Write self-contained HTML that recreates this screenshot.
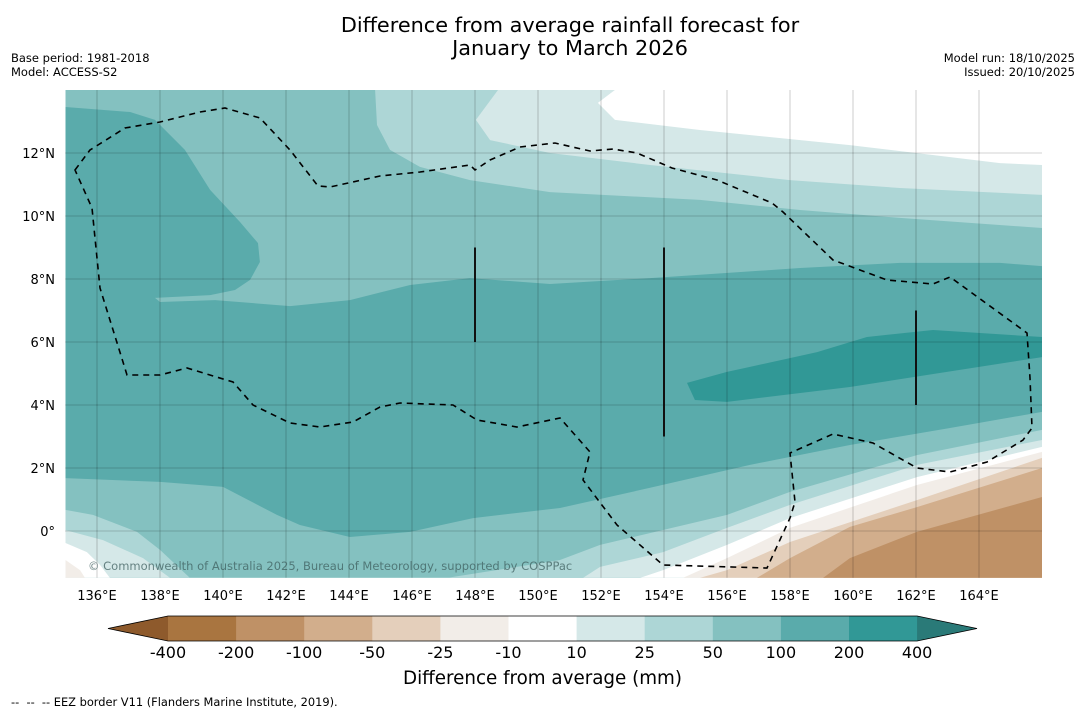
<!DOCTYPE html>
<html><head><meta charset="utf-8">
<style>
body{margin:0;background:#fff;font-family:"DejaVu Sans","Liberation Sans",sans-serif;}
#wrap{position:relative;width:1085px;height:713px;overflow:hidden;background:#fff;}
.t{position:absolute;white-space:nowrap;color:#000;}
</style></head>
<body>
<div id="wrap">
<div class="t" style="left:0;width:1140px;text-align:center;top:14px;font-size:20.8px;line-height:23px;">Difference from average rainfall forecast for<br>January to March 2026</div>
<div class="t" style="left:11px;top:51px;font-size:11.5px;line-height:14px;">Base period: 1981-2018<br>Model: ACCESS-S2</div>
<div class="t" style="right:10px;top:51px;font-size:11.5px;line-height:14px;text-align:right;">Model run: 18/10/2025<br>Issued: 20/10/2025</div>
<svg id="map" width="1085" height="713" style="position:absolute;left:0;top:0"></svg>
<div class="t" style="left:0;width:1085px;text-align:center;top:668px;font-size:18.3px;">Difference from average (mm)</div>
<div class="t" style="left:11px;top:695px;font-size:11.4px;">--&nbsp; --&nbsp; -- EEZ border V11 (Flanders Marine Institute, 2019).</div>
</div>
<script>
const NS='http://www.w3.org/2000/svg';
const svg=document.getElementById('map');
const FF='DejaVu Sans, Liberation Sans, sans-serif';
// axes
const lonTicks=[136,138,140,142,144,146,148,150,152,154,156,158,160,162,164];
const latTicks=[0,2,4,6,8,10,12];
const lonMin=135, lonMax=166, latMin=-1.49, latMax=14;
function X(lon){return 97+(lon-136)*31.5;}
function Y(lat){return 531-lat*31.5;}
const levelLabels=['-400','-200','-100','-50','-25','-10','10','25','50','100','200','400'];
const levelColors=['#a97540','#bf9166','#d2ae8c','#e4cfbb','#f2ede8','#ffffff','#d5e8e8','#add6d6','#84c1c0','#5aabab','#319896'];
// contour regions [lon,lat]
const band25North=[[144.83,14],[166,14],[166,9.62],[161.49,9.94],[158.32,10.19],[155.14,10.51],[150.38,10.76],[147.84,11.14],[146.25,11.56],[145.30,12.10],[144.89,12.89]];
const band10North=[[148.73,14],[166,14],[166,10.67],[161.49,10.89],[158.0,11.14],[153.56,11.62],[150.38,12.0],[148.48,12.41],[148.03,13.05]];
const bandWhiteNorth=[[152.44,14],[151.90,13.59],[152.44,13.05],[155.14,12.73],[159.90,12.25],[164.67,11.68],[166,11.62],[166,14]];
const band100=[[135,13.46],[137.05,13.30],[137.84,13.05],[138.79,12.10],[139.59,10.83],[140.54,9.81],[141.11,9.14],[141.17,8.54],[140.86,7.97],[140.38,7.65],[139.59,7.49],[137.84,7.40],[138.0,7.27],[139.75,7.33],[142.13,7.14],[144.03,7.33],[145.94,7.81],[147.84,8.03],[150.38,7.84],[153.56,8.03],[158.32,8.35],[161.49,8.51],[164.67,8.51],[166,8.41],[166,3.78],[163.08,3.27],[159.90,2.73],[156.73,2.10],[153.56,1.37],[150.70,0.73],[147.94,0.41],[145.94,-0.03],[144.03,-0.19],[142.44,0.19],[141.71,0.51],[140.0,1.40],[138.0,1.56],[135,1.68]];
const band200=[[154.73,4.70],[154.98,4.16],[156.0,4.10],[159.90,4.57],[166,5.52],[166,6.16],[162.54,6.38],[160.44,6.16],[158.86,5.68],[156.73,5.21],[156.0,5.05]];
const sw25=[[135,0.67],[135.87,0.51],[137.27,-0.03],[138.0,-0.60],[138.95,-1.49],[135,-1.49]];
const sw10=[[135,0.03],[136.19,-0.29],[137.46,-0.86],[138.32,-1.49],[135,-1.49]];
const swWhite=[[135,-0.38],[135.68,-0.67],[136.1,-1.08],[136.41,-1.49],[135,-1.49]];
const swM25=[[135,-0.92],[135.46,-1.24],[135.62,-1.49],[135,-1.49]];
const se25=[[166,3.21],[162.03,2.41],[158.0,1.24],[156.0,0.51],[151.97,-0.44],[150.70,-0.92],[147.11,-1.49],[166,-1.49]];
const se10=[[166,2.89],[162.03,2.10],[158.0,0.83],[156.0,0.10],[153.97,-0.67],[151.97,-1.14],[151.43,-1.49],[166,-1.49]];
const seWhite=[[166,2.67],[162.03,1.71],[158.0,0.41],[156.0,-0.44],[153.97,-1.24],[153.24,-1.49],[166,-1.49]];
const seM25=[[166,2.51],[162.03,1.46],[158.0,0.10],[156.0,-0.86],[154.60,-1.49],[166,-1.49]];
const seM50=[[166,2.32],[162.03,0.98],[158.0,-0.35],[156.0,-1.24],[155.14,-1.49],[166,-1.49]];
const seM100=[[166,2.0],[162.03,0.76],[159.90,0.13],[158.0,-0.86],[156.95,-1.49],[166,-1.49]];
const seM200=[[166,1.08],[162.03,-0.03],[159.90,-0.86],[159.05,-1.49],[166,-1.49]];
const regions=[
 ['band-25-north',band25North,'#add6d6'],['band-10-north',band10North,'#d5e8e8'],['band-white-north',bandWhiteNorth,'#ffffff'],
 ['band-100',band100,'#5aabab'],['band-200',band200,'#319896'],
 ['sw-25',sw25,'#add6d6'],['sw-10',sw10,'#d5e8e8'],['sw-white',swWhite,'#ffffff'],['sw-minus25',swM25,'#f2ede8'],
 ['se-25',se25,'#add6d6'],['se-10',se10,'#d5e8e8'],['se-white',seWhite,'#ffffff'],['se-minus25',seM25,'#f2ede8'],
 ['se-minus50',seM50,'#e4cfbb'],['se-minus100',seM100,'#d2ae8c'],['se-minus200',seM200,'#bf9166']];
// marks
const clip=document.createElementNS(NS,'clipPath');clip.setAttribute('id','mc');
const cr=document.createElementNS(NS,'rect');cr.setAttribute('x',X(lonMin));cr.setAttribute('y',Y(latMax));cr.setAttribute('width',X(lonMax)-X(lonMin));cr.setAttribute('height',Y(latMin)-Y(latMax));
clip.appendChild(cr);svg.appendChild(clip);
const g=document.createElementNS(NS,'g');g.setAttribute('clip-path','url(#mc)');svg.appendChild(g);
const bg=document.createElementNS(NS,'rect');


bg.setAttribute('x',X(lonMin));bg.setAttribute('y',Y(latMax));bg.setAttribute('width',X(lonMax)-X(lonMin));bg.setAttribute('height',Y(latMin)-Y(latMax));bg.setAttribute('fill','#84c1c0');g.appendChild(bg);
regions.forEach(r=>{
 const p=document.createElementNS(NS,'polygon');
 
 
 p.setAttribute('points',r[1].map(q=>X(q[0]).toFixed(1)+','+Y(q[1]).toFixed(1)).join(' '));
 p.setAttribute('fill',r[2]);g.appendChild(p);
});
// grid
lonTicks.forEach(l=>{
 const ln=document.createElementNS(NS,'line');
 
 
 ln.setAttribute('x1',X(l));ln.setAttribute('x2',X(l));ln.setAttribute('y1',Y(latMax));ln.setAttribute('y2',Y(latMin));
 ln.setAttribute('stroke','#000');ln.setAttribute('stroke-opacity','0.2');ln.setAttribute('stroke-width','1');g.appendChild(ln);
 const t=document.createElementNS(NS,'text');
 
 
 t.setAttribute('x',X(l));t.setAttribute('y',600);t.setAttribute('text-anchor','middle');t.setAttribute('font-size','13');t.setAttribute('font-family',FF);
 t.textContent=l+'°E';svg.appendChild(t);
});
latTicks.forEach(l=>{
 const ln=document.createElementNS(NS,'line');
 
 
 ln.setAttribute('x1',X(lonMin));ln.setAttribute('x2',X(lonMax));ln.setAttribute('y1',Y(l));ln.setAttribute('y2',Y(l));
 ln.setAttribute('stroke','#000');ln.setAttribute('stroke-opacity','0.35');ln.setAttribute('stroke-width','1');ln.setAttribute('stroke-dasharray','1 1');g.appendChild(ln);
 const t=document.createElementNS(NS,'text');
 
 
 t.setAttribute('x',55);t.setAttribute('y',Y(l)+5);t.setAttribute('text-anchor','end');t.setAttribute('font-size','13');t.setAttribute('font-family',FF);
 t.textContent=l===0?'0°':l+'°N';svg.appendChild(t);
});
// vertical black bars
const barLon=[148,154,162];const barTop=[9,9,7];const barBot=[6,3,4];
barLon.forEach((l,i)=>{
 const ln=document.createElementNS(NS,'line');
 
 
 ln.setAttribute('x1',X(l));ln.setAttribute('x2',X(l));ln.setAttribute('y1',Y(barTop[i]));ln.setAttribute('y2',Y(barBot[i]));
 ln.setAttribute('stroke','#111');ln.setAttribute('stroke-width','2');g.appendChild(ln);
});
// EEZ dashed line
const eez=document.createElementNS(NS,'path');


eez.setAttribute('d','M75,170 L90,150 L125,128 L160,122 L200,112 L225,108 L260,118 L290,150 L318,186 L330,187 L380,176 L420,172 L470,165 L475,170 L490,160 L520,147 L555,143 L590,151 L613,149 L637,153 L672,168 L717,180 L772,203 L783,212 L833,260 L887,280 L933,284 L950,277 L1027,333 L1030,378 L1032,428 L1023,440 L987,462 L950,472 L917,468 L873,443 L833,434 L790,453 L795,502 L790,518 L767,568 L663,565 L617,525 L583,480 L590,452 L560,418 L517,427 L477,420 L453,405 L400,403 L380,407 L353,422 L320,427 L290,423 L253,405 L233,382 L187,368 L160,375 L127,375 L123,362 L100,288 L92,208 Z');
eez.setAttribute('fill','none');eez.setAttribute('stroke','#000');eez.setAttribute('stroke-width','1.6');eez.setAttribute('stroke-dasharray','6 5');g.appendChild(eez);
// copyright
const cp=document.createElementNS(NS,'text');


cp.setAttribute('x',88);cp.setAttribute('y',570);cp.setAttribute('font-size','11.5');cp.setAttribute('fill','#3f5f5f');cp.setAttribute('fill-opacity','0.75');cp.setAttribute('font-family',FF);
cp.textContent='© Commonwealth of Australia 2025, Bureau of Meteorology, supported by COSPPac';svg.appendChild(cp);
// colorbar
const cbX0=168,cbW=68.1,cbY=616,cbH=25;
levelColors.forEach((c,i)=>{
 const r=document.createElementNS(NS,'rect');
 
 
 r.setAttribute('x',cbX0+i*cbW);r.setAttribute('y',cbY);r.setAttribute('width',cbW+0.5);r.setAttribute('height',cbH);r.setAttribute('fill',c);svg.appendChild(r);
});
const la=document.createElementNS(NS,'polygon');


la.setAttribute('points',`108,${cbY+cbH/2} ${cbX0},${cbY} ${cbX0},${cbY+cbH}`);la.setAttribute('fill','#8e5a2c');svg.appendChild(la);
const xe=cbX0+levelColors.length*cbW;
const ra=document.createElementNS(NS,'polygon');


ra.setAttribute('points',`${xe},${cbY} 977,${cbY+cbH/2} ${xe},${cbY+cbH}`);ra.setAttribute('fill','#2a7a78');svg.appendChild(ra);
const ol=document.createElementNS(NS,'polygon');


ol.setAttribute('points',`108,${cbY+cbH/2} ${cbX0},${cbY} ${xe},${cbY} 977,${cbY+cbH/2} ${xe},${cbY+cbH} ${cbX0},${cbY+cbH}`);ol.setAttribute('fill','none');ol.setAttribute('stroke','#000');ol.setAttribute('stroke-width','0.8');svg.appendChild(ol);
levelLabels.forEach((s,i)=>{
 const t=document.createElementNS(NS,'text');
 
 
 t.setAttribute('x',cbX0+i*cbW);t.setAttribute('y',658);t.setAttribute('text-anchor','middle');t.setAttribute('font-size','16');t.setAttribute('font-family',FF);
 t.textContent=s;svg.appendChild(t);
});
</script>
</body></html>
